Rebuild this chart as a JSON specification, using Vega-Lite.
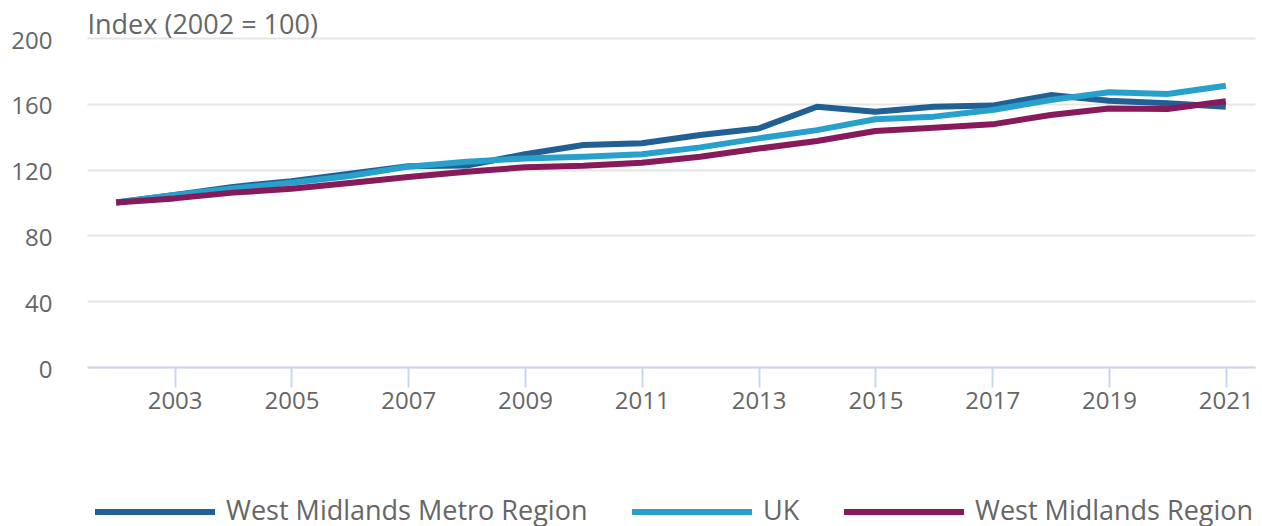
{
  "$schema": "https://vega.github.io/schema/vega-lite/v6.json",
  "width": 1168,
  "height": 329,
  "autosize": {"type": "none"},
  "padding": {"left": 87, "top": 38, "right": 7, "bottom": 159},
  "config": {
    "view": {"stroke": null},
    "font": "Open Sans",
    "axis": {"labelFont": "Open Sans", "titleFont": "Open Sans"},
    "legend": {"labelFont": "Open Sans"}
  },
  "data": {
    "values": [
      {"year": 2002, "series": "West Midlands Metro Region", "value": 100},
      {"year": 2003, "series": "West Midlands Metro Region", "value": 104.5},
      {"year": 2004, "series": "West Midlands Metro Region", "value": 109.5},
      {"year": 2005, "series": "West Midlands Metro Region", "value": 113},
      {"year": 2006, "series": "West Midlands Metro Region", "value": 117.5},
      {"year": 2007, "series": "West Midlands Metro Region", "value": 122},
      {"year": 2008, "series": "West Midlands Metro Region", "value": 122.5},
      {"year": 2009, "series": "West Midlands Metro Region", "value": 129.3},
      {"year": 2010, "series": "West Midlands Metro Region", "value": 135},
      {"year": 2011, "series": "West Midlands Metro Region", "value": 136},
      {"year": 2012, "series": "West Midlands Metro Region", "value": 141},
      {"year": 2013, "series": "West Midlands Metro Region", "value": 145},
      {"year": 2014, "series": "West Midlands Metro Region", "value": 158.2},
      {"year": 2015, "series": "West Midlands Metro Region", "value": 155.2},
      {"year": 2016, "series": "West Midlands Metro Region", "value": 158.2},
      {"year": 2017, "series": "West Midlands Metro Region", "value": 158.9},
      {"year": 2018, "series": "West Midlands Metro Region", "value": 165.3},
      {"year": 2019, "series": "West Midlands Metro Region", "value": 161.9},
      {"year": 2020, "series": "West Midlands Metro Region", "value": 160.3},
      {"year": 2021, "series": "West Midlands Metro Region", "value": 158.2},
      {"year": 2002, "series": "UK", "value": 100},
      {"year": 2003, "series": "UK", "value": 104.5},
      {"year": 2004, "series": "UK", "value": 108.5},
      {"year": 2005, "series": "UK", "value": 112},
      {"year": 2006, "series": "UK", "value": 116.1},
      {"year": 2007, "series": "UK", "value": 121.8},
      {"year": 2008, "series": "UK", "value": 124.8},
      {"year": 2009, "series": "UK", "value": 126.8},
      {"year": 2010, "series": "UK", "value": 127.8},
      {"year": 2011, "series": "UK", "value": 129.3},
      {"year": 2012, "series": "UK", "value": 133.5},
      {"year": 2013, "series": "UK", "value": 139},
      {"year": 2014, "series": "UK", "value": 144},
      {"year": 2015, "series": "UK", "value": 150.6},
      {"year": 2016, "series": "UK", "value": 152.2},
      {"year": 2017, "series": "UK", "value": 156.2},
      {"year": 2018, "series": "UK", "value": 162.3},
      {"year": 2019, "series": "UK", "value": 167},
      {"year": 2020, "series": "UK", "value": 166},
      {"year": 2021, "series": "UK", "value": 171},
      {"year": 2002, "series": "West Midlands Region", "value": 100},
      {"year": 2003, "series": "West Midlands Region", "value": 102.5},
      {"year": 2004, "series": "West Midlands Region", "value": 106},
      {"year": 2005, "series": "West Midlands Region", "value": 108.3},
      {"year": 2006, "series": "West Midlands Region", "value": 111.8},
      {"year": 2007, "series": "West Midlands Region", "value": 115.5},
      {"year": 2008, "series": "West Midlands Region", "value": 118.7},
      {"year": 2009, "series": "West Midlands Region", "value": 121.4},
      {"year": 2010, "series": "West Midlands Region", "value": 122.4},
      {"year": 2011, "series": "West Midlands Region", "value": 124.2},
      {"year": 2012, "series": "West Midlands Region", "value": 127.8},
      {"year": 2013, "series": "West Midlands Region", "value": 132.8},
      {"year": 2014, "series": "West Midlands Region", "value": 137.4},
      {"year": 2015, "series": "West Midlands Region", "value": 143.5},
      {"year": 2016, "series": "West Midlands Region", "value": 145.5},
      {"year": 2017, "series": "West Midlands Region", "value": 147.5},
      {"year": 2018, "series": "West Midlands Region", "value": 153.2},
      {"year": 2019, "series": "West Midlands Region", "value": 157.2},
      {"year": 2020, "series": "West Midlands Region", "value": 156.8},
      {"year": 2021, "series": "West Midlands Region", "value": 161.6}
    ]
  },
  "mark": {"type": "line", "strokeWidth": 6, "strokeJoin": "round"},
  "encoding": {
    "x": {
      "field": "year",
      "type": "quantitative",
      "scale": {"domain": [2001.5, 2021.5], "nice": false, "zero": false},
      "axis": {
        "title": null,
        "values": [2003, 2005, 2007, 2009, 2011, 2013, 2015, 2017, 2019, 2021],
        "format": "d",
        "grid": false,
        "domainColor": "#ccd6eb",
        "domainWidth": 2,
        "tickColor": "#ccd6eb",
        "tickWidth": 2,
        "tickSize": 20,
        "labelPadding": 2,
        "labelFontSize": 24,
        "labelColor": "#666666",
        "labelFlush": false
      }
    },
    "y": {
      "field": "value",
      "type": "quantitative",
      "scale": {"domain": [0, 200], "nice": false},
      "axis": {
        "title": "Index (2002 = 100)",
        "titleAngle": 0,
        "titleX": 0,
        "titleY": -5,
        "titleAlign": "left",
        "titleBaseline": "alphabetic",
        "titleFontSize": 27,
        "titleFontWeight": "normal",
        "titleColor": "#666666",
        "values": [0, 40, 80, 120, 160, 200],
        "domain": false,
        "ticks": false,
        "labelPadding": 35,
        "labelOffset": 3,
        "labelFontSize": 24,
        "labelColor": "#666666",
        "gridColor": "#e6e6e6",
        "gridWidth": 2
      }
    },
    "color": {
      "field": "series",
      "type": "nominal",
      "scale": {
        "domain": ["West Midlands Metro Region", "UK", "West Midlands Region"],
        "range": ["#206095", "#27a0cc", "#871a5b"]
      },
      "legend": {
        "title": null,
        "orient": "none",
        "direction": "horizontal",
        "legendX": 5,
        "legendY": 411,
        "symbolType": "stroke",
        "symbolSize": 14400,
        "symbolStrokeWidth": 6,
        "labelFontSize": 27,
        "labelColor": "#666666",
        "labelOffset": 8,
        "columnPadding": 32,
        "labelLimit": 500
      }
    }
  }
}
